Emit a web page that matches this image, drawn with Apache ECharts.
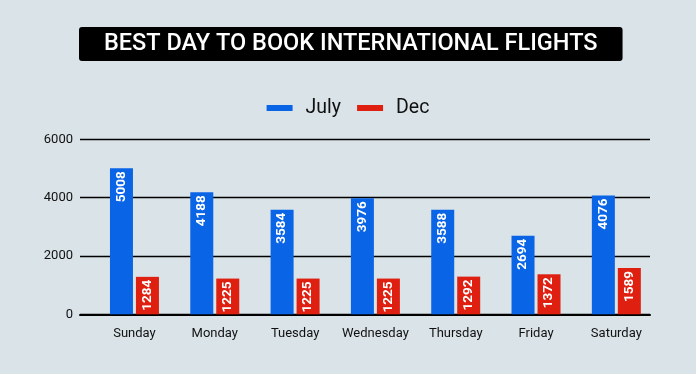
<!DOCTYPE html>
<html>
<head>
<meta charset="utf-8">
<script src="https://cdn.jsdelivr.net/npm/echarts@6/dist/echarts.min.js"></script>
<style>
html,body{margin:0;padding:0;background:#D9E3E8;}
#c{width:696px;height:374px;}
</style>
</head>
<body>
<div id="c"></div>
<script>
const categories = ['Sunday','Monday','Tuesday','Wednesday','Thursday','Friday','Saturday'];
const julyValues = [5008,4188,3584,3976,3588,2694,4076];
const decValues = [1284,1225,1225,1225,1292,1372,1589];
const yTicks = [0,2000,4000,6000];
const seriesNames = ['July','Dec'];
const titleText = 'BEST DAY TO BOOK INTERNATIONAL FLIGHTS';

const chart = echarts.init(document.getElementById('c'), null, {renderer:'canvas'});
const font = 'Roboto, "Noto Sans", sans-serif';
const labelCfg = {
  show: true, position: 'insideTop', rotate: 90, align: 'right', verticalAlign: 'middle',
  distance: 3, color: '#fff', fontWeight: 'bold', fontSize: 13.5, fontFamily: font
};
const yMin = yTicks[0], yMax = yTicks[yTicks.length-1], yInt = yTicks[1]-yTicks[0];
chart.setOption({
  backgroundColor: '#D9E3E8',
  animation: false,
  title: {
    text: titleText, left: 79, top: 27,
    backgroundColor: '#000', borderRadius: 3, padding: [5, 25, 5, 25],
    textStyle: {color: '#fff', fontSize: 23.5, fontWeight: 500, fontFamily: font, lineHeight: 24}
  },
  legend: {
    top: 93, left: 'center', itemWidth: 26, itemHeight: 6, itemGap: 16,
    icon: 'rect',
    textStyle: {fontSize: 19.5, color: '#111', fontFamily: font, padding: [0,0,0,8]},
    data: seriesNames
  },
  grid: [
    {left: 94.3, right: 39.5, top: 139.3, bottom: 59.7},
    {left: 80, right: 46, top: 139.3, bottom: 59.7}
  ],
  xAxis: [
    {type: 'category', data: categories, gridIndex: 0,
     axisLine: {show: false}, axisTick: {show: false},
     axisLabel: {color: '#111', fontSize: 13, fontFamily: font, margin: 13, interval: 0}},
    {type: 'category', data: categories, gridIndex: 1,
     axisLine: {show: true, lineStyle: {color: '#000', width: 2}}, axisTick: {show: false},
     axisLabel: {show: false}}
  ],
  yAxis: [
    {type: 'value', gridIndex: 0, min: yMin, max: yMax, interval: yInt, show: false},
    {type: 'value', gridIndex: 1, min: yMin, max: yMax, interval: yInt,
     axisLine: {show: false}, axisTick: {show: false},
     axisLabel: {color: '#111', fontSize: 13, fontFamily: font, margin: 7, formatter: v => String(v)},
     splitLine: {show: true, lineStyle: {color: '#000', width: 1.3}}}
  ],
  series: [
    {name: seriesNames[0], type: 'bar', xAxisIndex: 0, yAxisIndex: 0, data: julyValues,
     barWidth: 23, barGap: '13%', itemStyle: {color: '#0A64E6'}, label: labelCfg},
    {name: seriesNames[1], type: 'bar', xAxisIndex: 0, yAxisIndex: 0, data: decValues,
     barWidth: 23, barGap: '13%', itemStyle: {color: '#DF2010'}, label: labelCfg}
  ]
});
</script>
</body>
</html>
